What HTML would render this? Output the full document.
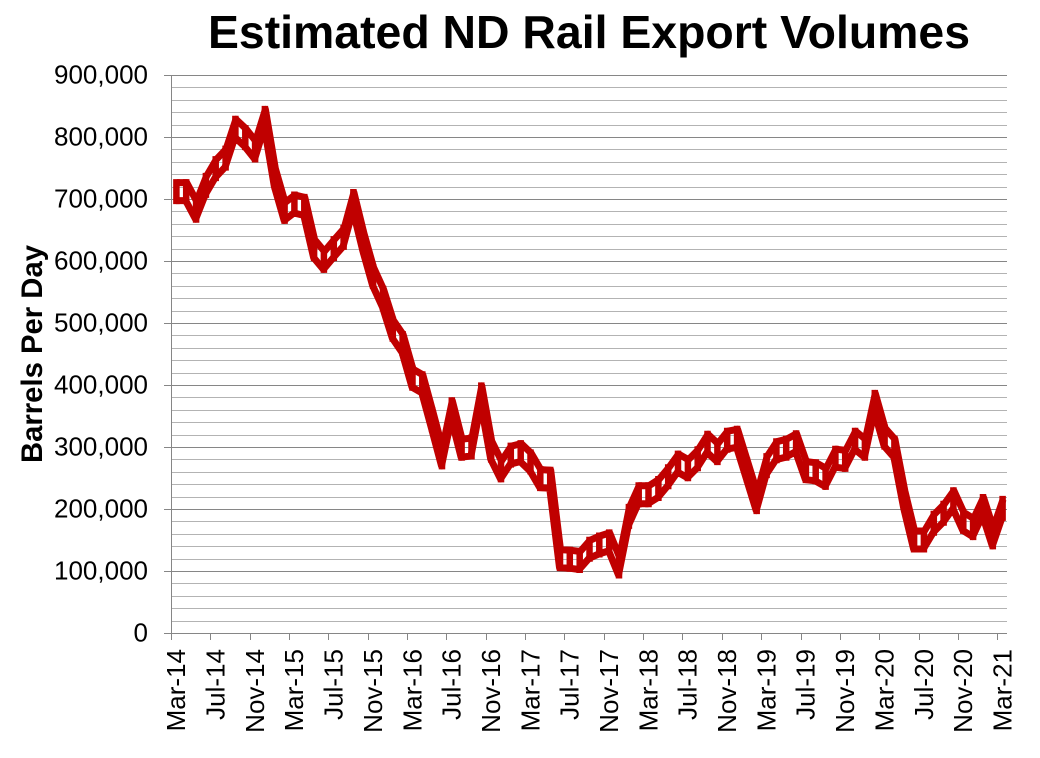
<!DOCTYPE html>
<html>
<head>
<meta charset="utf-8">
<style>
  html,body{margin:0;padding:0;background:#fff;}
  svg{display:block;}
  text{font-family:"Liberation Sans",Arial,sans-serif;fill:#000;}
</style>
</head>
<body>
<svg id="c" width="1040" height="758" viewBox="0 0 1040 758" xmlns="http://www.w3.org/2000/svg">
  <rect x="0" y="0" width="1040" height="758" fill="#fff"/>
  <g id="grid"></g>
  <g id="axes"></g>
  <g fill="none" stroke="#C00000" stroke-width="7" stroke-linejoin="round" stroke-linecap="butt">
    <path id="top"/>
    <path id="bot"/>
    <path id="rungs"/>
  </g>

  <text x="208" y="48" font-size="46" font-weight="bold" textLength="762" lengthAdjust="spacingAndGlyphs">Estimated ND Rail Export Volumes</text>

  <g font-size="26" text-anchor="end">
    <text x="148" y="83.5">900,000</text>
    <text x="148" y="145.5">800,000</text>
    <text x="148" y="207.5">700,000</text>
    <text x="148" y="269.5">600,000</text>
    <text x="148" y="331.5">500,000</text>
    <text x="148" y="393.5">400,000</text>
    <text x="148" y="455.5">300,000</text>
    <text x="148" y="517.5">200,000</text>
    <text x="148" y="579.5">100,000</text>
    <text x="148" y="641.5">0</text>
  </g>

  <text transform="translate(42,354) rotate(-90)" font-size="30" font-weight="bold" text-anchor="middle" textLength="218" lengthAdjust="spacingAndGlyphs">Barrels Per Day</text>

  <g font-size="26" text-anchor="end">
    <text transform="translate(185.2,649) rotate(-90)">Mar-14</text>
    <text transform="translate(224.5,649) rotate(-90)">Jul-14</text>
    <text transform="translate(263.9,649) rotate(-90)">Nov-14</text>
    <text transform="translate(303.2,649) rotate(-90)">Mar-15</text>
    <text transform="translate(342.6,649) rotate(-90)">Jul-15</text>
    <text transform="translate(381.9,649) rotate(-90)">Nov-15</text>
    <text transform="translate(421.3,649) rotate(-90)">Mar-16</text>
    <text transform="translate(460.6,649) rotate(-90)">Jul-16</text>
    <text transform="translate(500.0,649) rotate(-90)">Nov-16</text>
    <text transform="translate(539.3,649) rotate(-90)">Mar-17</text>
    <text transform="translate(578.6,649) rotate(-90)">Jul-17</text>
    <text transform="translate(618.0,649) rotate(-90)">Nov-17</text>
    <text transform="translate(657.3,649) rotate(-90)">Mar-18</text>
    <text transform="translate(696.7,649) rotate(-90)">Jul-18</text>
    <text transform="translate(736.0,649) rotate(-90)">Nov-18</text>
    <text transform="translate(775.4,649) rotate(-90)">Mar-19</text>
    <text transform="translate(814.7,649) rotate(-90)">Jul-19</text>
    <text transform="translate(854.1,649) rotate(-90)">Nov-19</text>
    <text transform="translate(893.4,649) rotate(-90)">Mar-20</text>
    <text transform="translate(932.8,649) rotate(-90)">Jul-20</text>
    <text transform="translate(972.1,649) rotate(-90)">Nov-20</text>
    <text transform="translate(1011.4,649) rotate(-90)">Mar-21</text>
  </g>
</svg>
<script>
(function(){
  var NS="http://www.w3.org/2000/svg";
  var grid=document.getElementById("grid"), axes=document.getElementById("axes");
  function line(p,x1,y1,x2,y2,col){
    var l=document.createElementNS(NS,"line");
    l.setAttribute("x1",x1);l.setAttribute("y1",y1);
    l.setAttribute("x2",x2);l.setAttribute("y2",y2);
    l.setAttribute("stroke",col);l.setAttribute("stroke-width","1");
    p.appendChild(l);
  }
  var L=171,R=1007,T=75,B=633;
  for(var k=1;k<45;k++){
    if(k%5===0) continue;
    var y=Math.round(B-k*12.4)+0.5;
    line(grid,L,y,R,y,"#b3b3b3");
  }
  for(var j=0;j<9;j++){
    var y2=T+62*j+0.5;
    line(grid,L,y2,R,y2,"#868686");
    line(axes,164,y2,L,y2,"#868686");
  }
  line(axes,L,B+0.5,164,B+0.5,"#868686");
  line(axes,L+0.5,T,L+0.5,B+1,"#868686");
  line(axes,L,B+0.5,R,B+0.5,"#868686");
  for(var t=0;t<=84;t+=4){
    var x=Math.round(171+9.836*t)+0.5;
    line(axes,x,B,x,B+7,"#868686");
  }
  var vals=[712,712,682,722,749,766,814,799,779,830,
            735,680,692,688,620,601,620,638,696,631,
            575,540,490,467,411,402,344,284,360,298,
            300,384,295,263,287,291,276,249,248,120,
            119,117,135,142,147,108,188,223,223,233,
            252,274,265,281,306,291,311,314,263,212,
            270,294,298,307,262,260,251,282,280,311,
            298,372,316,298,215,150,150,177,193,215,
            180,170,204,155,201];
  var off=9, dt="", db="", dr="";
  for(var i=0;i<vals.length;i++){
    var x=175.9+9.836*i;
    var yc=B-vals[i]*0.62;
    var c=(i===0?"M":"L");
    dt+=c+(x+1).toFixed(1)+" "+(yc-off).toFixed(1)+" ";
    db+=c+x.toFixed(1)+" "+(yc+off).toFixed(1)+" ";
    dr+="M"+(x+0.5).toFixed(1)+" "+(yc-off-3.5).toFixed(1)+" L"+(x+0.5).toFixed(1)+" "+(yc+off+3.5).toFixed(1)+" ";
  }
  document.getElementById("top").setAttribute("d",dt);
  document.getElementById("bot").setAttribute("d",db);
  var r=document.getElementById("rungs");
  r.setAttribute("d",dr);
  r.setAttribute("stroke-width","6.5");
})();
</script>
</body>
</html>
